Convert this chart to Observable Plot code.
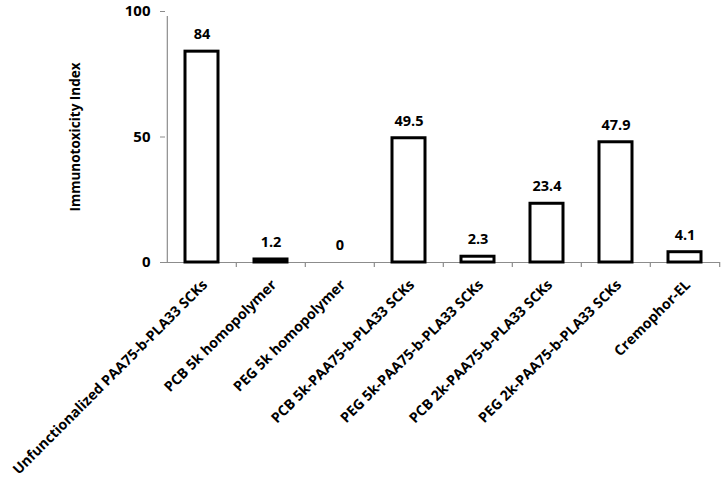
<!DOCTYPE html>
<html>
<head>
<meta charset="utf-8">
<script src="https://cdn.jsdelivr.net/npm/d3@7"></script>
<script src="https://cdn.jsdelivr.net/npm/@observablehq/plot@0.6"></script>
<style>
  html, body { margin: 0; padding: 0; background: #fff; }
  svg { display: block; }
</style>
</head>
<body>
<div id="chart"></div>
<script>
const categories = [
  "Unfunctionalized PAA75-b-PLA33 SCKs",
  "PCB 5k homopolymer",
  "PEG 5k homopolymer",
  "PCB 5k-PAA75-b-PLA33 SCKs",
  "PEG 5k-PAA75-b-PLA33 SCKs",
  "PCB 2k-PAA75-b-PLA33 SCKs",
  "PEG 2k-PAA75-b-PLA33 SCKs",
  "Cremophor-EL"
];
const values = [84, 1.2, 0, 49.5, 2.3, 23.4, 47.9, 4.1];
const valueLabels = ["84", "1.2", "0", "49.5", "2.3", "23.4", "47.9", "4.1"];
const yTicks = [0, 50, 100];
const yTitle = "Immunotoxicity Index";

const data = categories.map((c, i) => ({cat: c, value: values[i], label: valueLabels[i]}));

const W = 726, H = 481;
const mL = 165, mR = 6, mT = 11, mB = 219;
const bw = (W - mL - mR) / categories.length;
const font = "'Open Sans', Lato, sans-serif";

const plot = Plot.plot({
  width: W,
  height: H,
  marginLeft: mL,
  marginRight: mR,
  marginTop: mT,
  marginBottom: mB,
  style: {fontFamily: font, fontWeight: "bold", color: "#000", background: "#fff"},
  x: {type: "band", domain: categories, padding: 0, axis: null},
  y: {domain: [0, 100], axis: null},
  marks: [
    // axis lines
    Plot.ruleY([0], {stroke: "#8c8c8c", strokeWidth: 1.2}),
    Plot.ruleX([categories[0]], {x: d => d, y1: 0, y2: 100, dx: -bw / 2, insetBottom: -5, stroke: "#8c8c8c", strokeWidth: 1.2}),
    // category boundary ticks
    Plot.ruleX(categories.slice(1), {x: d => d, y1: 0, y2: 0, dx: -bw / 2, insetBottom: -5, stroke: "#8c8c8c", strokeWidth: 1.2}),
    Plot.ruleX([categories[categories.length - 1]], {x: d => d, y1: 0, y2: 0, dx: bw / 2, insetBottom: -5, stroke: "#8c8c8c", strokeWidth: 1.2}),
    // y axis ticks and labels
    Plot.axisY(yTicks, {tickSize: 5, tickPadding: 10, stroke: "#8c8c8c", fill: "#000", fontSize: 15, fontWeight: "bold", label: null}),
    Plot.text([yTitle], {frameAnchor: "left", textAnchor: "middle", rotate: -90, dx: -90, fontSize: 13.5, fontWeight: "bold", fill: "#000"}),
    // bars
    Plot.barY(data.filter(d => d.value > 0), {x: "cat", y: "value", fill: "#fff", stroke: "#000", strokeWidth: 3, insetLeft: 18, insetRight: 18}),
    // value labels
    Plot.text(data, {x: "cat", y: "value", text: "label", dy: -17, fontSize: 14.5, fontWeight: "bold", fill: "#000"}),
    // category labels
    Plot.text(categories, {x: d => d, y: 0, text: d => d, rotate: -45, textAnchor: "end", dx: 3, dy: 20, fontSize: 14.2, fontWeight: "bold", fill: "#000"})
  ]
});
document.getElementById("chart").appendChild(plot);
</script>
</body>
</html>
